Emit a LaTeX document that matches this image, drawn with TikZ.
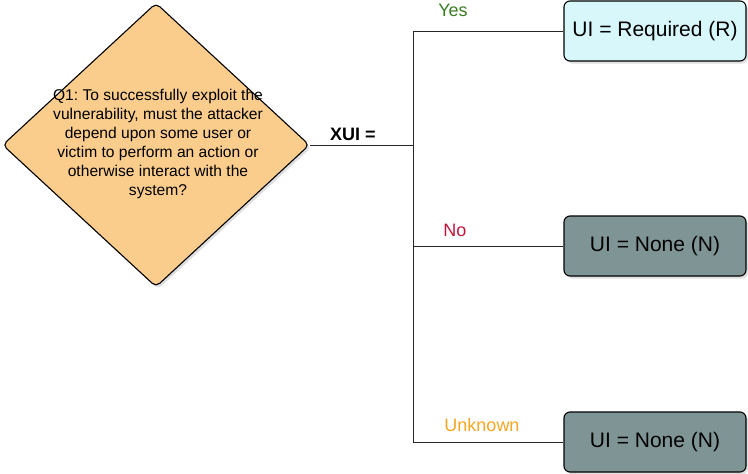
\documentclass[tikz,border=0pt]{standalone}
\usepackage{fontspec}
\setmainfont{Liberation Sans}
\usetikzlibrary{shapes.geometric,shadows}
\frenchspacing
\definecolor{qfill}{HTML}{FBCD8D}
\definecolor{rfill}{HTML}{D7F7FB}
\definecolor{nfill}{HTML}{7F9595}
\definecolor{yescol}{HTML}{3A7D22}
\definecolor{nocol}{HTML}{C0143C}
\definecolor{unkcol}{HTML}{F5A623}
\tikzset{
  shade/.style={drop shadow={shadow xshift=2pt,shadow yshift=-2.5pt,opacity=0.25}},
  question/.style={diamond,draw=black,line width=1.1pt,fill=qfill,rounded corners=5pt,
    minimum width=307pt,minimum height=284pt,inner sep=0pt,shade},
  qtext/.style={align=center,font=\fontsize{15.6}{19}\selectfont,inner sep=0pt},
  result/.style={rectangle,draw=black,line width=1.1pt,rounded corners=6pt,
    minimum width=182pt,minimum height=60pt,inner sep=0pt,
    font=\fontsize{21}{24}\selectfont,shade},
  conn/.style={draw=black!85,line width=1pt},
  branch/.style={font=\fontsize{18}{20}\selectfont,inner sep=0pt}
}
\begin{document}
\begin{tikzpicture}[x=1pt,y=-1pt]
\useasboundingbox (0,0) rectangle (748,474);
\node[question] (q) at (156,145) {};
\node[qtext] (qt) at (158,144) {Q1: To successfully exploit the\\vulnerability, must the attacker\\depend upon some user or\\victim to perform an action or\\otherwise interact with the\\system?};
\node[font=\bfseries\fontsize{18}{20}\selectfont,inner sep=0pt] (xui) at (353,134) {XUI =};
\node[result,fill=rfill] (r1) at (655,31) {UI = Required (R)};
\node[result,fill=nfill] (r2) at (655,246) {UI = None (N)};
\node[result,fill=nfill] (r3) at (655,442) {UI = None (N)};
\coordinate (j) at (413,145);
\draw[conn] (q.east) -- (j);
\draw[conn] (j) |- (r1.west);
\draw[conn] (j) |- (r2.west);
\draw[conn] (j) |- (r3.west);
\node[branch,text=yescol] (yes) at (453,10) {Yes};
\node[branch,text=nocol] (no) at (455,230) {No};
\node[branch,text=unkcol] (unk) at (482,425) {Unknown};
\end{tikzpicture}
\end{document}
